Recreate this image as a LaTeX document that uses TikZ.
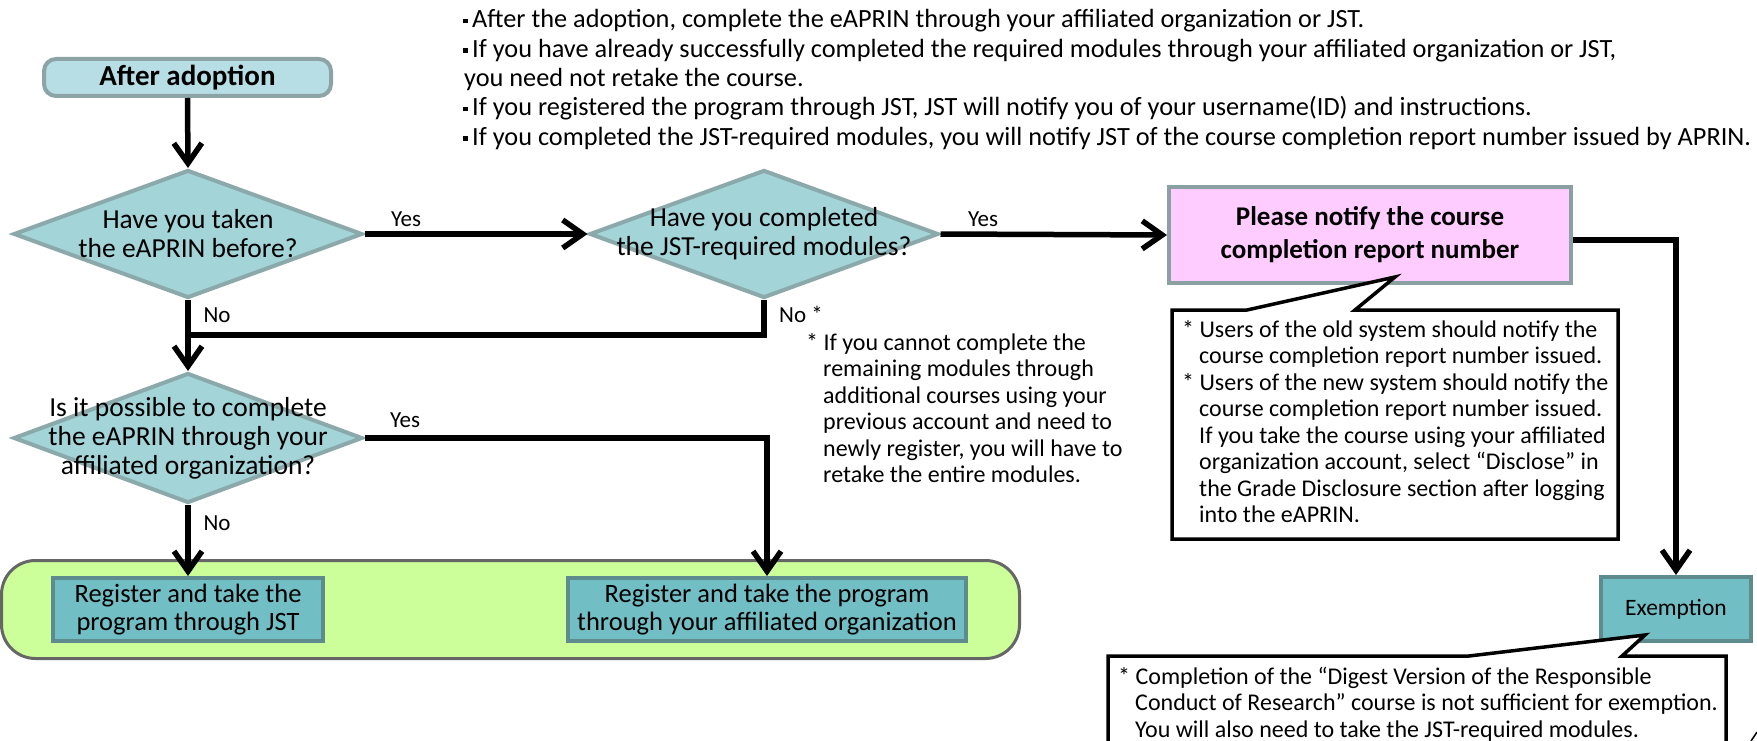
\documentclass[tikz,border=0pt]{standalone}
\usepackage{fontspec}
\setmainfont{Carlito}
\usetikzlibrary{shapes.geometric,arrows.meta}
\definecolor{dfill}{HTML}{A2D4D8}
\definecolor{dborder}{HTML}{8BA8AA}
\definecolor{sfill}{HTML}{B7DEE4}
\definecolor{sborder}{HTML}{8DA3A6}
\definecolor{pfill}{HTML}{FFCCFF}
\definecolor{pborder}{HTML}{8BA0A3}
\definecolor{bfill}{HTML}{72BEC5}
\definecolor{bborder}{HTML}{5E8C8E}
\definecolor{gfill}{HTML}{CCFF99}
\definecolor{gborder}{HTML}{666666}
\newcommand\bul{\raisebox{4.5pt}{\rule{4.5pt}{4.5pt}}\hspace{4.5pt}}
\newcommand\fl{\rule{0pt}{20pt}}
\newcommand\ind{\hspace*{17pt}}
\begin{document}
\begin{tikzpicture}[x=1pt,y=-1pt,
  conn/.style={line width=5.5pt,draw=black},
  arr/.style={conn,-{Straight Barb[length=20pt,width=28pt]}},
  diam/.style={diamond,draw=dborder,fill=dfill,line width=4pt,minimum width=349pt,minimum height=128pt,inner sep=0pt},
  dtext/.style={font=\fontsize{27.5}{29}\selectfont,align=center,inner sep=0pt},
  bbox/.style={rectangle,draw=bborder,fill=bfill,line width=4pt,inner sep=0pt,align=center},
  toptext/.style={font=\fontsize{26.3}{29}\selectfont,inner sep=0pt,anchor=base west},
  note/.style={font=\fontsize{24}{26.5}\selectfont,align=left,inner sep=0pt,anchor=north west},
  lab/.style={font=\fontsize{23}{26}\selectfont,inner sep=0pt},
  callout/.style={draw=black,fill=white,line width=3.5pt,line join=miter}]
\useasboundingbox (0,0) rectangle (1757,741);
\fill[white] (0,0) rectangle (1757,741);

% top notes
\node[toptext] (t1) at (463,28) {\bul After the adoption, complete the eAPRIN through your affiliated organization or JST.};
\node[toptext] (t2) at (463,57.3) {\bul If you have already successfully completed the required modules through your affiliated organization or JST,};
\node[toptext] (t3) at (464,86.6) {you need not retake the course.};
\node[toptext] (t4) at (463,115.9) {\bul If you registered the program through JST, JST will notify you of your username(ID) and instructions.};
\node[toptext] (t5) at (463,145.2) {\bul If you completed the JST-required modules, you will notify JST of the course completion report number issued by APRIN.};

% green group
\node[rectangle,rounded corners=34pt,draw=gborder,fill=gfill,line width=3pt,minimum width=1018pt,minimum height=98pt,inner sep=0pt] (grp) at (510.5,609.5) {};

% shapes
\node[rectangle,rounded corners=12pt,draw=sborder,fill=sfill,line width=4pt,minimum width=287pt,minimum height=37pt,inner sep=0pt,font=\fontsize{29}{31}\selectfont\bfseries] (start) at (187.5,77.5) {After adoption};
\node[diam] (d1) at (188,234) {};
\node[dtext] (d1t) at (d1) {Have you taken\\the eAPRIN before?};
\node[diam] (d2) at (764,234) {};
\node[dtext] (d2t) at (d2) {Have you completed\\the JST-required modules?};
\node[diam,minimum height=130pt] (d3) at (188,438) {};
\node[dtext] (d3t) at (d3) {Is it possible to complete\\the eAPRIN through your\\affiliated organization?};
\node[rectangle,draw=pborder,fill=pfill,line width=4pt,minimum width=402pt,minimum height=96pt,inner sep=0pt,align=center,font=\fontsize{27}{33}\selectfont\bfseries] (pink) at (1370,235) {Please notify the course\\completion report number};
\node[bbox,minimum width=150pt,minimum height=64pt,font=\fontsize{23.5}{26}\selectfont] (exem) at (1676,609) {Exemption};
\node[bbox,minimum width=270pt,minimum height=63pt,font=\fontsize{26.5}{28}\selectfont] (b1) at (188,609.5) {Register and take the\\program through JST};
\node[bbox,minimum width=398pt,minimum height=63pt,font=\fontsize{26.5}{28}\selectfont] (b2) at (767,609.5) {Register and take the program\\through your affiliated organization};

% connectors
\coordinate (j) at (188,335);
\draw[arr] (start.south) -- (d1.north);
\draw[arr] (d1.east) -- (d2.west);
\draw[arr] (d2.east) -- (pink.west);
\draw[arr] ([yshift=-5pt]pink.east) -| (exem.north);
\draw[arr] (d1.south) -- (d3.north);
\draw[conn] (d2.south) |- (j);
\draw[arr] (d3.east) -| (b2.north);
\draw[arr] (d3.south) -- (b1.north);

% labels
\node[lab] (y1) at (406,219) {Yes};
\node[lab] (y2) at (983,219) {Yes};
\node[lab] (n1) at (217,315) {No};
\node[lab] (n2) at (801,314) {No *};
\node[lab] (y3) at (405,420) {Yes};
\node[lab] (n3) at (217,523) {No};

% note under d2
\node[note] (nd2) at (806,330) {\fl* If you cannot complete the\\\ind remaining modules through\\\ind additional courses using your\\\ind previous account and need to\\\ind newly register, you will have to\\\ind retake the entire modules.};

% callout 1
\coordinate (c1tip) at (1395,277);
\draw[callout] (1172,310) -- (1247,310) -- (c1tip) -- (1355,310) -- (1618,310) -- (1618,539) -- (1172,539) -- cycle;
\node[note] (nc1) at (1182,317) {\fl* Users of the old system should notify the\\\ind course completion report number issued.\\* Users of the new system should notify the\\\ind course completion report number issued.\\\ind If you take the course using your affiliated\\\ind organization account, select “Disclose” in\\\ind the Grade Disclosure section after logging\\\ind into the eAPRIN.};

% callout 2
\coordinate (c2tip) at (1645,635);
\draw[callout] (1108,656) -- (1469,656) -- (c2tip) -- (1622,656) -- (1726,656) -- (1726,770) -- (1108,770) -- cycle;
\node[note] (nc2) at (1118,664) {\fl* Completion of the “Digest Version of the Responsible\\\ind Conduct of Research” course is not sufficient for exemption.\\\ind You will also need to take the JST-required modules.};

% stray corner stroke
\draw[line width=1.5pt] (1751,741) -- (1757,732);
\end{tikzpicture}
\end{document}
